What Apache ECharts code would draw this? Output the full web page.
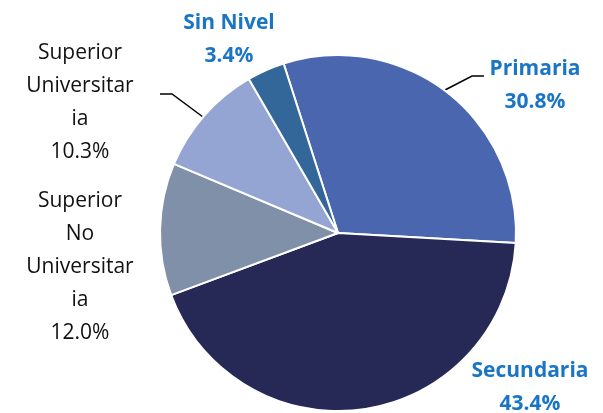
<!DOCTYPE html>
<html style="height: 100%">
<head>
    <meta charset="utf-8">
</head>
<body style="height: 100%; margin: 0; background: #fff">
<div id="container" style="width: 603px; height: 413px"></div>
<script type="text/javascript" src="https://cdn.jsdelivr.net/npm/echarts@6/dist/echarts.min.js"></script>
<script type="text/javascript">
// nivel educativo
var categories = ['Primaria', 'Secundaria', 'Superior\nNo\nUniversitar\nia', 'Superior\nUniversitar\nia', 'Sin Nivel'];
var values = [30.8, 43.4, 12.0, 10.3, 3.4];
var colors = ['#4a66ae', '#262856', '#8090a9', '#95a5d3', '#336699'];
var boldLabel = [true, true, false, false, true];

// label placement (center of the text block) and leader lines
var labelPos = [[535, 86], [530, 388], [80, 267], [80, 103], [229, 40]];
var leaderLines = [
    [[445, 90], [472, 76], [484, 76]],
    null,
    null,
    [[203, 117], [172, 94], [160, 94]],
    null
];

var myChart = echarts.init(document.getElementById('container'));

var data = [];
for (var i = 0; i < categories.length; i++) {
    data.push({
        name: categories[i],
        value: values[i],
        itemStyle: { color: colors[i] },
        label: boldLabel[i]
            ? { color: '#1a76c4', fontWeight: 'bold' }
            : { color: '#111', fontWeight: 'normal' },
        labelLine: { show: !!leaderLines[i] }
    });
}

var option = {
    backgroundColor: '#fff',
    animation: false,
    series: [{
        type: 'pie',
        center: [338, 233],
        radius: 178,
        startAngle: 107.8,
        clockwise: true,
        data: data,
        itemStyle: { borderColor: '#fff', borderWidth: 2 },
        label: {
            show: true,
            position: 'outside',
            fontFamily: 'Open Sans',
            fontSize: 21,
            lineHeight: 33,
            align: 'center',
            formatter: function (p) {
                return p.name + '\n' + p.value.toFixed(1) + '%';
            }
        },
        labelLine: {
            lineStyle: { color: '#000', width: 1.5 }
        },
        labelLayout: function (params) {
            var i = params.dataIndex;
            var res = {
                x: labelPos[i][0],
                y: labelPos[i][1],
                align: 'center',
                verticalAlign: 'middle'
            };
            if (leaderLines[i]) res.labelLinePoints = leaderLines[i];
            return res;
        }
    }]
};

myChart.setOption(option);
</script>
</body>
</html>
